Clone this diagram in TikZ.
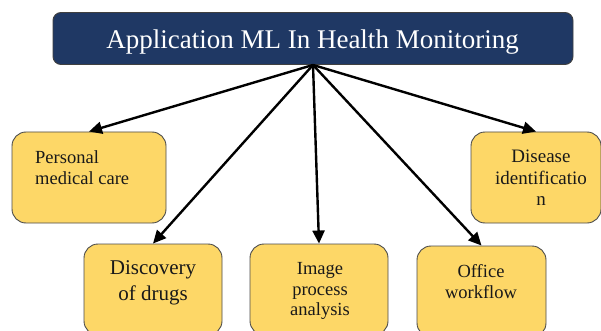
\documentclass[tikz,border=0pt]{standalone}
\usepackage{fontspec}
\setmainfont{Liberation Serif}
\usetikzlibrary{arrows.meta}
\definecolor{navy}{HTML}{1F3864}
\definecolor{gold}{HTML}{FDD767}
\tikzset{
  headbox/.style={draw=black!75, line width=0.9pt, fill=navy, rounded corners=8pt,
    minimum width=520pt, minimum height=52pt, inner sep=0pt},
  itembox/.style={draw=black!70, line width=0.9pt, fill=gold, rounded corners=14pt,
    minimum height=91pt, inner sep=0pt},
  itemtext/.style={inner sep=0pt, text=black!90},
  branch/.style={draw=black, line width=2.4pt,
    -{Triangle[length=13pt,width=12pt]}}
}
\begin{document}
\begin{tikzpicture}[x=1pt,y=-1pt]
  \useasboundingbox (0,0) rectangle (601,331);
  \clip (0,0) rectangle (601,331);
  \fill[white] (0,0) rectangle (601,331);

  % header
  \node[headbox] (head) at (313,38.5) {};
  \node[anchor=base, inner sep=0pt, text=white, font=\fontsize{27}{31}\selectfont]
    (headtxt) at (312.5,48.5) {Application ML In Health Monitoring};

  % upper row
  \node[itembox, minimum width=154pt] (care) at (89,177.5) {};
  \node[itembox, minimum width=130pt] (disease) at (536,177.5) {};
  % lower row
  \node[itembox, minimum width=138pt] (drugs) at (153,289.5) {};
  \node[itembox, minimum width=138pt] (image) at (319,289.5) {};
  \node[itembox, minimum width=129pt] (office) at (481.5,291.5) {};

  % labels
  \node[itemtext, anchor=north west, align=left, font=\fontsize{18.5}{21}\selectfont]
    (caretxt) at (35,150.5) {Personal\\medical care};
  \node[itemtext, anchor=north, align=center, font=\fontsize{19}{21.5}\selectfont]
    (diseasetxt) at (541,150.2) {Disease\\identificatio\\n};
  \node[itemtext, anchor=north, align=center, font=\fontsize{21}{26}\selectfont]
    (drugstxt) at (153,260.7) {Discovery\\of drugs};
  \node[itemtext, anchor=north, align=center, font=\fontsize{18.5}{20.5}\selectfont]
    (imagetxt) at (320,262.5) {Image\\process\\analysis};
  \node[itemtext, anchor=north, align=center, font=\fontsize{18.5}{21}\selectfont]
    (officetxt) at (481,264.5) {Office\\workflow};

  % connectors
  \coordinate (hub) at (head.south);
  \draw[branch] (hub) -- (care.north);
  \draw[branch] (hub) -- (drugs.north);
  \draw[branch] (hub) -- (image.north);
  \draw[branch] (hub) -- (office.north);
  \draw[branch] (hub) -- (disease.north);
\end{tikzpicture}
\end{document}
